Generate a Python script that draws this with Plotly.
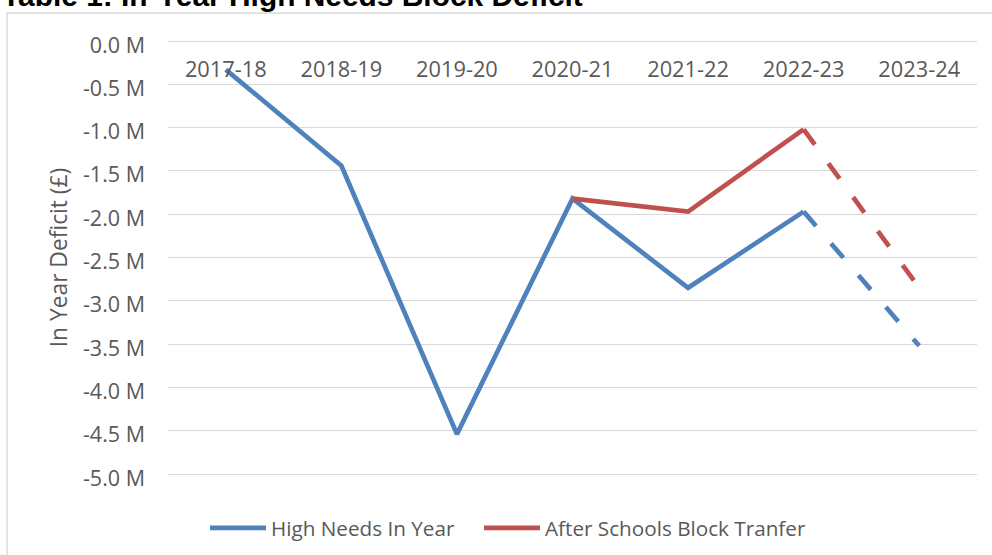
import plotly.graph_objects as go

# ---- data ----
years = ["2017-18", "2018-19", "2019-20", "2020-21", "2021-22", "2022-23", "2023-24"]
high_needs_in_year = [-0.33, -1.44, -4.54, -1.82, -2.85, -1.97, -3.52]
after_schools_block = [None, None, None, -1.82, -1.97, -1.02, -2.85]
forecast_start = 5  # index of 2022-23: from here on the line is a forecast (dashed)
y_tick_vals = [0.0, -0.5, -1.0, -1.5, -2.0, -2.5, -3.0, -3.5, -4.0, -4.5, -5.0]
y_tick_text = ["0.0 M", "-0.5 M", "-1.0 M", "-1.5 M", "-2.0 M", "-2.5 M",
               "-3.0 M", "-3.5 M", "-4.0 M", "-4.5 M", "-5.0 M"]

series = [
    ("High Needs In Year", high_needs_in_year, "#4F81BD", "legend"),
    ("After Schools Block Tranfer", after_schools_block, "#C0504D", "legend2"),
]

FONT = "Open Sans, Lato, sans-serif"
TXT = "#595959"
GRID = "#D9D9D9"
LW = 4.7

fig = go.Figure()
for name, vals, col, lg in series:
    fig.add_trace(go.Scatter(
        x=years[:forecast_start + 1], y=vals[:forecast_start + 1],
        mode="lines", name=name, legend=lg,
        line=dict(color=col, width=LW),
        connectgaps=False, hoverinfo="skip",
    ))
for name, vals, col, lg in series:
    fig.add_trace(go.Scatter(
        x=years[forecast_start:], y=vals[forecast_start:],
        mode="lines", name=name + " (forecast)", showlegend=False,
        line=dict(color=col, width=LW, dash="19px,23px"),
        hoverinfo="skip",
    ))

W, H = 992, 555
L, R, T, B = 168, 15, 38, 78
PW, PH = W - L - R, H - T - B
Y0_PX, Y5_PX = 41, 474          # pixel rows of 0.0 M and -5.0 M
per_px = 5.0 / (Y5_PX - Y0_PX)
y_range = [-5.0 - (H - B - Y5_PX) * per_px, 0.0 + (Y0_PX - T) * per_px]


def px_x(p):
    return (p - L) / PW


def px_y(p):
    return (H - B - p) / PH


legend_common = dict(
    orientation="h", xanchor="left", y=px_y(528), yanchor="middle",
    itemwidth=56, font=dict(family=FONT, size=20.7, color=TXT),
    bgcolor="rgba(0,0,0,0)",
)

fig.update_layout(
    width=W, height=H,
    margin=dict(l=L, r=R, t=T, b=B, autoexpand=False),
    paper_bgcolor="white", plot_bgcolor="white",
    font=dict(family=FONT, size=21, color=TXT),
    showlegend=True,
    legend=dict(x=px_x(205), **legend_common),
    legend2=dict(x=px_x(479), **legend_common),
    xaxis=dict(
        type="category", categoryorder="array", categoryarray=years,
        range=[-0.5, len(years) - 0.5],
        anchor="free", position=1, side="bottom", ticklabelstandoff=16,
        showgrid=False, zeroline=False, showline=False, ticks="",
        tickfont=dict(family=FONT, size=21.8, color=TXT),
        fixedrange=True,
    ),
    yaxis=dict(
        domain=[0, 1],
        range=y_range, tickvals=y_tick_vals, ticktext=y_tick_text,
        showgrid=True, gridcolor=GRID, gridwidth=1.4,
        zeroline=False,
        showline=False, ticks="", ticklabelstandoff=22, ticklabelshift=4,
        tickfont=dict(family=FONT, size=21.5, color=TXT),
        title=dict(text="In Year Deficit (£)", standoff=8,
                   font=dict(family=FONT, size=22.8, color=TXT)),
        fixedrange=True,
    ),
    shapes=[dict(
        type="rect", xref="paper", yref="paper",
        x0=px_x(7), x1=px_x(1005), y0=px_y(570), y1=px_y(13),
        line=dict(color=GRID, width=1.4), fillcolor="rgba(0,0,0,0)", layer="below",
    )],
    annotations=[dict(
        text="<b>Table 1: In-Year High Needs Block Deficit</b>",
        xref="paper", yref="paper", x=px_x(0), y=px_y(-4.5),
        xanchor="left", yanchor="middle", showarrow=False,
        font=dict(family="Liberation Sans, Arial, sans-serif", size=29.9, color="black"),
    )],
)

fig.write_html("out.html")
